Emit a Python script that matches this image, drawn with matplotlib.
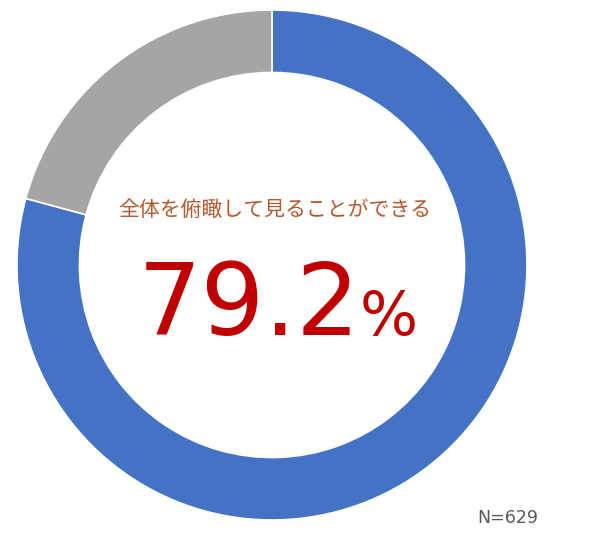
import matplotlib.pyplot as plt

labels = ['全体を俯瞰して見ることができる', 'その他']
values = [79.2, 20.8]
colors = ['#4472C4', '#A5A5A5']
n_total = 629

plt.rcParams['font.family'] = ['Noto Sans CJK JP', 'DejaVu Sans']


def main():
    fig = plt.figure(figsize=(6, 5.42), dpi=100)
    ax = fig.add_axes([0.0283, 0.0406, 0.85, 0.941])

    ax.pie(values, colors=colors, startangle=90, counterclock=False,
           radius=1.0,
           wedgeprops=dict(width=0.245, edgecolor='white', linewidth=1.2))
    ax.set_xlim(-1, 1)
    ax.set_ylim(-1, 1)
    ax.set_aspect('equal')
    ax.axis('off')

    ax.text(0.01, 0.216, labels[0], ha='center', va='center',
            fontsize=15, color='#B5592E')

    ax.text(0.345, -0.275, f'{values[0]}', ha='right', va='baseline',
            fontsize=72, color='#C00000', family='DejaVu Sans')
    ax.text(0.345, -0.275, '%', ha='left', va='baseline',
            fontsize=44, color='#C00000', family='DejaVu Sans')

    fig.text(0.795, 0.045, f'N={n_total}', ha='left', va='center',
             fontsize=12.5, color='#595959', family='DejaVu Sans')

    fig.savefig('out.png', dpi=100, facecolor='white')


if __name__ == '__main__':
    main()
